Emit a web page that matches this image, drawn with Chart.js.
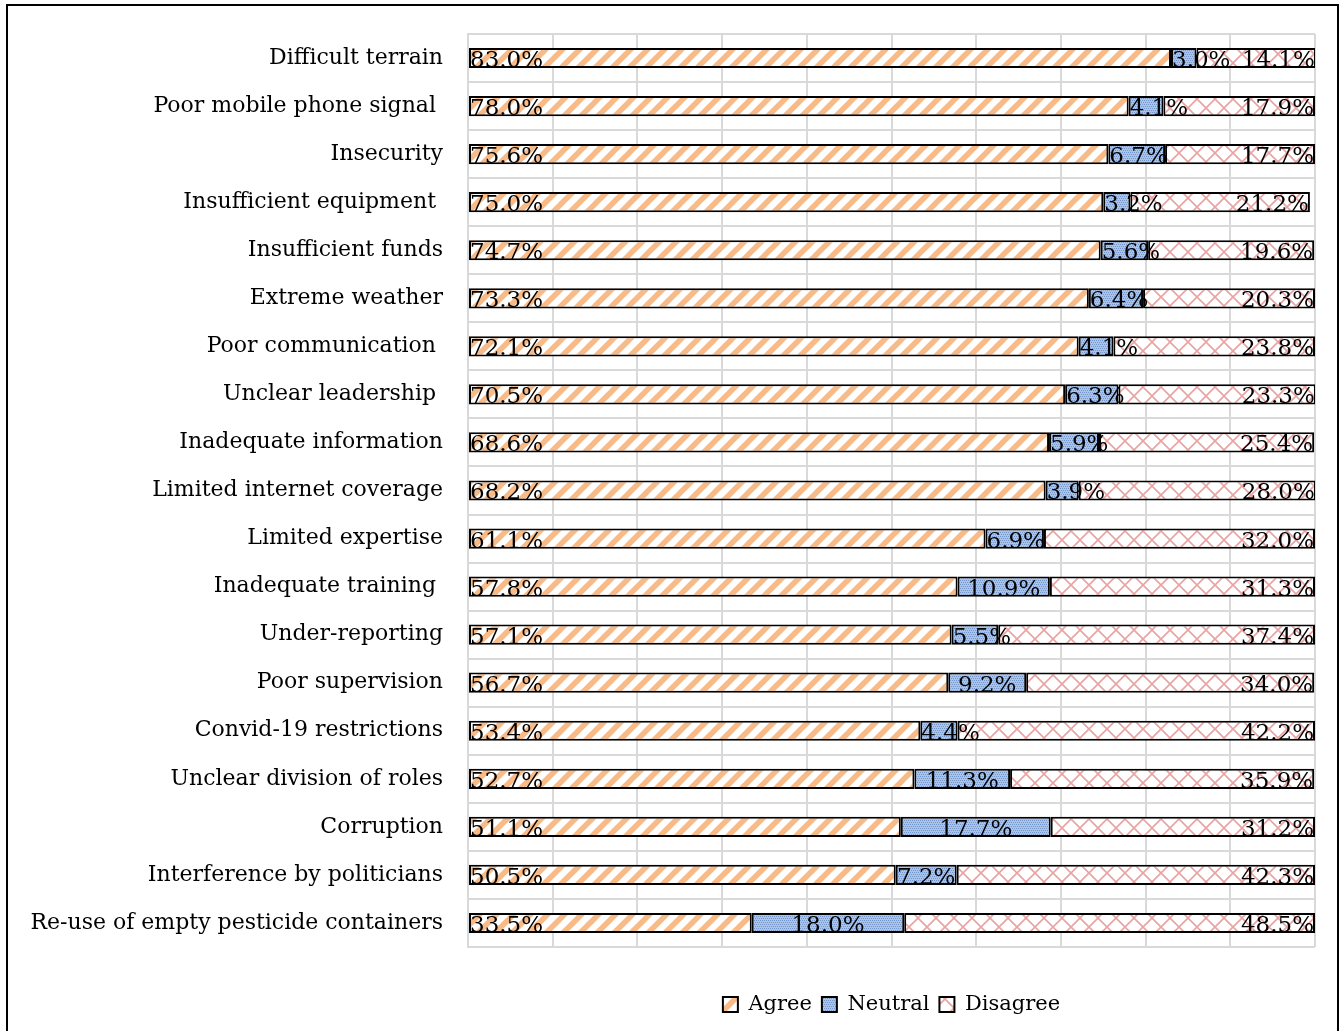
<!DOCTYPE html>
<html>
<head>
<meta charset="utf-8">
<script src="https://cdn.jsdelivr.net/npm/chart.js@4/dist/chart.umd.min.js"></script>
<style>
	body { margin: 0; background: #fff; }
	#wrap { position: relative; width: 1344px; height: 1031px; }
</style>
</head>
<body>
<div id="wrap"><canvas id="myChart"></canvas></div>
<script>
/* globals Chart:false */
const categories = [
	'Difficult terrain',
	'Poor mobile phone signal ',
	'Insecurity',
	'Insufficient equipment ',
	'Insufficient funds',
	'Extreme weather',
	'Poor communication ',
	'Unclear leadership ',
	'Inadequate information',
	'Limited internet coverage',
	'Limited expertise',
	'Inadequate training ',
	'Under-reporting',
	'Poor supervision',
	'Convid-19 restrictions',
	'Unclear division of roles',
	'Corruption',
	'Interference by politicians',
	'Re-use of empty pesticide containers'
];
const agree = [83.0, 78.0, 75.6, 75.0, 74.7, 73.3, 72.1, 70.5, 68.6, 68.2, 61.1, 57.8, 57.1, 56.7, 53.4, 52.7, 51.1, 50.5, 33.5];
const neutral = [3.0, 4.1, 6.7, 3.2, 5.6, 6.4, 4.1, 6.3, 5.9, 3.9, 6.9, 10.9, 5.5, 9.2, 4.4, 11.3, 17.7, 7.2, 18.0];
const disagree = [14.1, 17.9, 17.7, 21.2, 19.6, 20.3, 23.8, 23.3, 25.4, 28.0, 32.0, 31.3, 37.4, 34.0, 42.2, 35.9, 31.2, 42.3, 48.5];

const FONT = '"DejaVu Serif", "Liberation Serif", serif';

function makePattern(size, draw) {
	let c = document.createElement('canvas');
	c.width = size;
	c.height = size;
	let g = c.getContext('2d');
	draw(g, size);
	return g.createPattern(c, 'repeat');
}

// orange upward diagonal stripes
let agreeFill = makePattern(17, (g, s) => {
	g.fillStyle = '#fff';
	g.fillRect(0, 0, s, s);
	g.strokeStyle = '#f8bb88';
	g.lineWidth = 5.5;
	[-s, 0, s].forEach((o) => {
		g.beginPath();
		g.moveTo(o - 2, s + 2);
		g.lineTo(o + s + 2, -2);
		g.stroke();
	});
});

// blue dotted fill
let neutralFill = makePattern(16, (g, s) => {
	g.fillStyle = '#aac3e7';
	g.fillRect(0, 0, s, s);
	g.fillStyle = '#7397cf';
	for (let y = 0; y < s; y += 2) {
		for (let x = (y % 4) / 2; x < s; x += 2) {
			g.fillRect(x, y, 1, 1);
		}
	}
});

// pink diagonal cross hatch
let disagreeFill = makePattern(18, (g, s) => {
	g.fillStyle = '#fff';
	g.fillRect(0, 0, s, s);
	g.strokeStyle = '#e9a3a3';
	g.lineWidth = 1.6;
	g.beginPath();
	g.moveTo(0, 0); g.lineTo(s, s);
	g.moveTo(s, 0); g.lineTo(0, s);
	g.stroke();
});

const frame = {
	id: 'frame',
	beforeDraw(chart) {
		let ctx = chart.ctx;
		ctx.save();
		ctx.fillStyle = '#fff';
		ctx.fillRect(0, 0, chart.width, chart.height);
		ctx.strokeStyle = '#000';
		ctx.lineWidth = 2;
		ctx.strokeRect(7, 5, 1331, 1040);
		ctx.restore();
	}
};

const valueLabels = {
	id: 'valueLabels',
	afterDatasetsDraw(chart) {
		let ctx = chart.ctx;
		ctx.save();
		ctx.font = '23px ' + FONT;
		ctx.fillStyle = '#000';
		ctx.textBaseline = 'middle';
		ctx.textAlign = 'left';
		chart.data.datasets.forEach((ds, di) => {
			chart.getDatasetMeta(di).data.forEach((bar, i) => {
				let txt = ds.data[i].toFixed(1) + '%';
				let w = ctx.measureText(txt).width;
				let left = Math.min(bar.base, bar.x);
				let right = Math.max(bar.base, bar.x);
				let x;
				if (di === 0) {
					x = left + 1;
				} else if (di === 1) {
					x = Math.max(left + 1, (left + right) / 2 - w / 2);
				} else {
					x = right - w - 1;
				}
				ctx.fillText(txt, x, bar.y + 3);
			});
		});
		ctx.restore();
	}
};

let chartJson = {
	type: 'bar',
	data: {
		labels: categories,
		datasets: [
			{ label: 'Agree', data: agree, backgroundColor: agreeFill },
			{ label: 'Neutral', data: neutral, backgroundColor: neutralFill },
			{ label: 'Disagree', data: disagree, backgroundColor: disagreeFill }
		].map((d) => Object.assign(d, {
			borderColor: '#000',
			borderWidth: 2,
			borderSkipped: false,
			barPercentage: 0.42,
			categoryPercentage: 1
		}))
	},
	options: {
		indexAxis: 'y',
		responsive: true,
		maintainAspectRatio: false,
		animation: false,
		layout: {
			padding: { top: 34, right: 29, left: 0, bottom: 6 }
		},
		scales: {
			x: {
				stacked: true,
				min: 0,
				max: 100,
				ticks: { display: false, stepSize: 10 },
				grid: { color: '#d9d9d9', lineWidth: 2, drawTicks: false },
				border: { display: false },
				afterFit(scale) { scale.height = 37; }
			},
			y: {
				stacked: true,
				ticks: {
					color: '#000',
					padding: 25,
					font: { family: FONT, size: 22 }
				},
				grid: { color: '#d9d9d9', lineWidth: 2, drawTicks: false },
				border: { color: '#d9d9d9', width: 2 },
				afterFit(scale) {
					scale.width = 468;
					scale.paddingTop = 0;
					scale.paddingBottom = 0;
				}
			}
		},
		plugins: {
			legend: {
				position: 'bottom',
				fullSize: false,
				labels: {
					color: '#000',
					boxWidth: 15,
					boxHeight: 15,
					padding: 10,
					font: { family: FONT, size: 21 }
				}
			},
			tooltip: { enabled: false }
		}
	},
	plugins: [frame, valueLabels]
};

const ctx = document.getElementById('myChart');
// eslint-disable-next-line no-unused-vars
const myChart = new Chart(ctx, chartJson);
</script>
</body>
</html>
